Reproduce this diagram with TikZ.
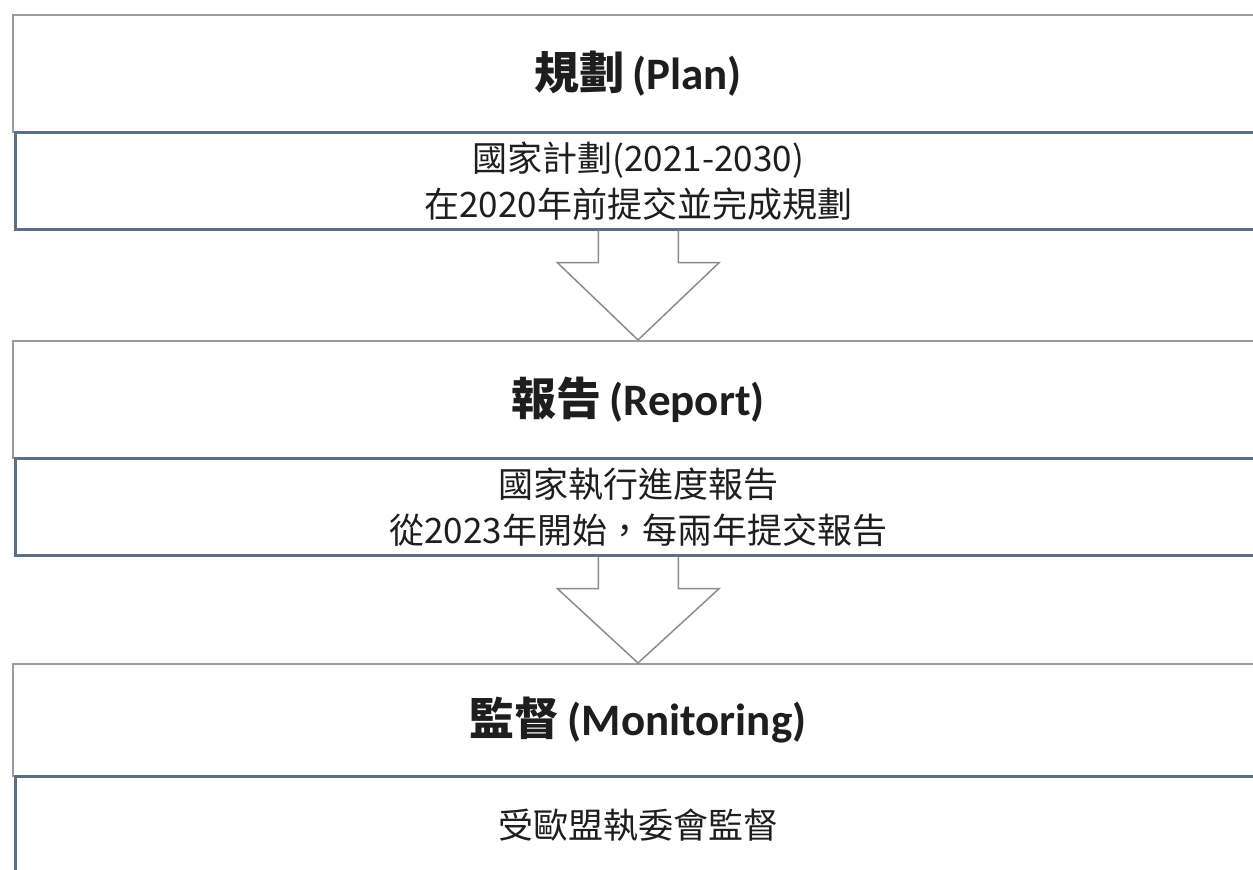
\documentclass[tikz,border=0pt]{standalone}
\usepackage{fontspec}
\newfontfamily\cjk{Noto Sans CJK TC}
\newfontfamily\titlelatin{Carlito}
\usetikzlibrary{calc}
\definecolor{headline}{HTML}{9C9C9C}
\definecolor{bodyline}{HTML}{5E6E85}
\definecolor{arrowline}{HTML}{8C8C8C}
\definecolor{inktext}{HTML}{1E1E1E}
\tikzset{
  headbox/.style={draw=headline, line width=2pt, minimum width=1250pt, minimum height=117pt, inner sep=0pt, anchor=north west, text=inktext, font=\fontsize{45}{50}\selectfont},
  bodybox/.style={draw=bodyline, line width=2.5pt, minimum width=1246pt, minimum height=97pt, inner sep=0pt, anchor=north west, align=center, text=inktext, font=\cjk\fontsize{35}{46}\selectfont},
  blockarrow/.style={draw=arrowline, line width=1.5pt, line join=miter}
}
\newcommand{\steptitle}[2]{{\cjk\bfseries #1}\hspace{8pt}{\titlelatin\bfseries (#2)}}
\begin{document}
\begin{tikzpicture}[x=1pt,y=-1pt]
\useasboundingbox (0,0) rectangle (1253,870);
\clip (0,0) rectangle (1253,870);

% plan
\node[headbox] (planhead) at (12,14) {\steptitle{規劃}{Plan}};
\node[bodybox] (plandet) at (14,131) {國家計劃(2021-2030)\\在2020年前提交並完成規劃};

% report
\node[headbox] (reporthead) at (12,340) {\steptitle{報告}{Report}};
\node[bodybox] (reportdet) at (14,457) {國家執行進度報告\\從2023年開始，每兩年提交報告};

% monitoring
\node[headbox, minimum height=112pt] (monhead) at (12,663) {\steptitle{監督}{Monitoring}};
\node[bodybox] (mondet) at (14,775) {受歐盟執委會監督};

% block arrows
\draw[blockarrow] ($(plandet.south)+(-40,0)$) -- ++(0,32) -- ++(-41,0) -- (reporthead.north) -- ($(plandet.south)+(81,32)$) -- ++(-41,0) -- ++(0,-32);
\draw[blockarrow] ($(reportdet.south)+(-40,0)$) -- ++(0,32) -- ++(-41,0) -- (monhead.north) -- ($(reportdet.south)+(81,32)$) -- ++(-41,0) -- ++(0,-32);
\end{tikzpicture}
\end{document}
